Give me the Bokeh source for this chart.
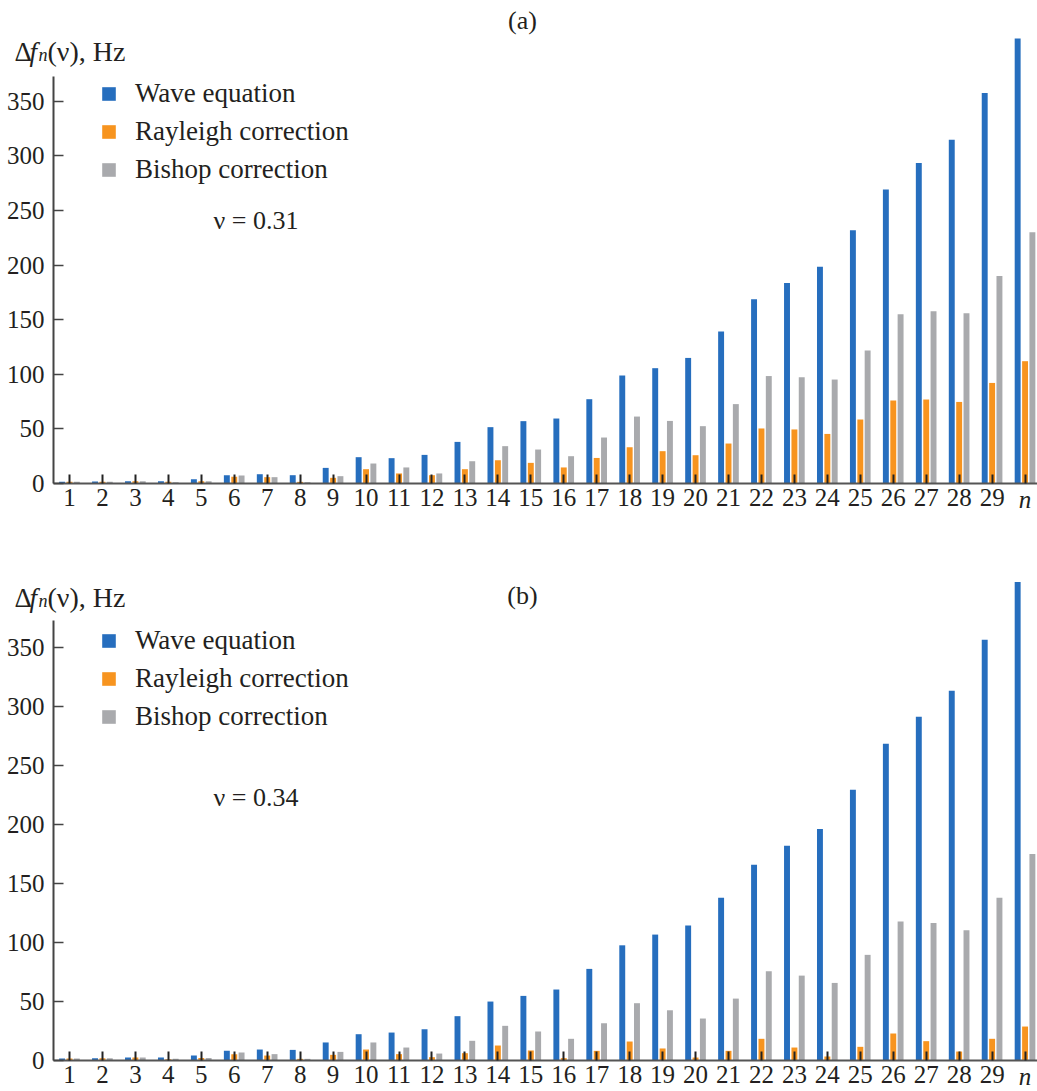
from bokeh.plotting import figure
from bokeh.models import (Label, Legend, LegendItem, FixedTicker, Range1d,
                          ColumnDataSource)
from bokeh.layouts import column
from bokeh.transform import dodge
from bokeh.embed import file_html
from bokeh.resources import INLINE

# ---------------- data ----------------
categories = [str(i) for i in range(1, 30)] + ["n"]
positions = list(range(1, 31))
y_ticks = [0, 50, 100, 150, 200, 250, 300, 350]
series_names = ["Wave equation", "Rayleigh correction", "Bishop correction"]

wave_a = [1.5, 1.8, 2.1, 2.1, 3.9, 7.6, 8.5, 7.6, 14.3, 24.1, 23.2, 26.2, 38.1, 51.6,
          57.1, 59.5, 77.2, 98.9, 105.6, 115.0, 139.2, 168.8, 183.7, 198.4, 232.0,
          269.2, 293.6, 314.7, 357.7, 407.5]
rayleigh_a = [1.5, 1.5, 2.1, 1.5, 2.1, 6.1, 5.8, 1.5, 5.2, 13.1, 9.2, 7.6, 13.1, 21.3,
              18.9, 14.7, 23.4, 33.2, 29.6, 25.9, 36.6, 50.4, 49.5, 45.4, 58.6,
              76.0, 76.9, 74.7, 92.1, 112.0]
bishop_a = [1.5, 1.5, 2.0, 1.2, 2.0, 7.3, 5.8, 1.2, 6.7, 18.3, 14.7, 9.2, 20.4, 34.2,
            31.1, 25.0, 42.1, 61.3, 57.3, 52.5, 72.7, 98.4, 97.3, 95.2, 121.8,
            155.0, 157.8, 155.9, 190.1, 230.1]

wave_b = [1.7, 1.9, 2.5, 2.5, 4.2, 8.2, 9.3, 9.0, 15.3, 22.3, 23.7, 26.5, 37.6, 50.0,
          54.8, 60.2, 77.7, 97.7, 106.8, 114.4, 138.1, 166.1, 182.2, 196.4, 229.7,
          268.6, 291.5, 313.6, 356.8, 405.9]
rayleigh_b = [1.7, 1.9, 2.5, 1.1, 2.2, 5.4, 4.2, 1.4, 4.8, 9.3, 5.4, 2.8, 6.2, 12.7,
              8.5, 2.0, 8.2, 16.1, 10.2, 2.5, 8.2, 18.4, 11.0, 3.4, 11.6,
              22.9, 16.4, 7.6, 18.4, 28.8]
bishop_b = [1.7, 1.9, 2.5, 1.4, 2.2, 6.8, 5.4, 1.4, 7.3, 15.3, 11.0, 5.9, 16.7, 29.4,
            24.6, 18.4, 31.6, 48.6, 42.6, 35.6, 52.5, 75.7, 72.0, 65.8, 89.6,
            117.8, 116.7, 110.4, 138.1, 175.2]

# ---------------- style ----------------
BLUE = "#266EBE"
ORANGE = "#F7941F"
GRAY = "#A9AAAD"
TXT = "#231f20"
FONT = "'Liberation Serif', 'Times New Roman', serif"

X_START = 0.5144     # left end of the category axis (data units)
X_END = 30.377
PX_PER_CAT = 32.95
LEFT_PX = 53
SHIFT = 10           # baseline correction for alphabetic labels


def add_text(p, x, y, text, size="26px", style="normal", align="left",
             baseline="alphabetic", x_units="screen"):
    p.add_layout(Label(x=x, y=y, x_units=x_units, y_units="screen", text=text,
                       text_font=FONT, text_font_size=size, text_font_style=style,
                       text_color=TXT, text_align=align, text_baseline=baseline))


def make_panel(wave, ray, bish, height, zero_px, px_per_unit, legend_y, n_y):
    src = ColumnDataSource(dict(x=positions, wave=wave, ray=ray, bish=bish))
    x0 = X_START - LEFT_PX / PX_PER_CAT
    ybot = -(height - zero_px) / px_per_unit
    ytop = zero_px / px_per_unit
    p = figure(width=1037, height=height, output_backend="svg",
               toolbar_location=None,
               x_range=Range1d(x0, X_END), y_range=Range1d(ybot, ytop),
               min_border_left=0, min_border_right=0, min_border_top=0,
               min_border_bottom=0)
    p.outline_line_color = None
    p.grid.visible = False
    p.background_fill_color = "white"

    w = 0.18
    r1 = p.vbar(x=dodge("x", -0.225, range=p.x_range), top="wave", width=w,
                source=src, fill_color=BLUE, line_color=None)
    r2 = p.vbar(x=dodge("x", 0.0, range=p.x_range), top="ray", width=w,
                source=src, fill_color=ORANGE, line_color=None)
    r3 = p.vbar(x=dodge("x", 0.222, range=p.x_range), top="bish", width=w,
                source=src, fill_color=GRAY, line_color=None)

    # axes (drawn at fixed locations inside the frame)
    xa = p.xaxis[0]
    xa.fixed_location = 0
    xa.bounds = (X_START, X_END)
    xa.ticker = FixedTicker(ticks=positions)
    overrides = {pos: cat for pos, cat in zip(positions, categories)}
    overrides[positions[-1]] = ""
    xa.major_label_overrides = overrides
    xa.major_tick_in = 9
    xa.major_tick_out = 0
    xa.major_tick_line_width = 2
    xa.major_tick_line_color = "#222222"
    xa.minor_tick_line_color = None
    xa.axis_line_color = "#555555"
    xa.axis_line_width = 2
    xa.major_label_text_font = FONT
    xa.major_label_text_font_size = "25px"
    xa.major_label_text_color = TXT
    xa.major_label_standoff = 5

    ya = p.yaxis[0]
    ya.fixed_location = X_START
    ya.ticker = FixedTicker(ticks=y_ticks)
    ya.bounds = (0, 373)
    ya.major_tick_in = 10
    ya.major_tick_out = 0
    ya.major_tick_line_width = 1.5
    ya.major_tick_line_color = "#444444"
    ya.minor_tick_line_color = None
    ya.axis_line_color = "#444444"
    ya.axis_line_width = 2
    ya.major_label_text_font = FONT
    ya.major_label_text_font_size = "25px"
    ya.major_label_text_color = TXT
    ya.major_label_standoff = 9

    # italic n tick label
    add_text(p, positions[-1], n_y, categories[-1], size="25px", style="italic",
             align="center", x_units="data")

    legend = Legend(items=[LegendItem(label=series_names[0], renderers=[r1]),
                           LegendItem(label=series_names[1], renderers=[r2]),
                           LegendItem(label=series_names[2], renderers=[r3])],
                    location=(100, legend_y), glyph_width=17, glyph_height=17,
                    label_standoff=18, spacing=7, padding=0, margin=0,
                    label_height=30, border_line_color=None,
                    background_fill_alpha=0,
                    label_text_font=FONT, label_text_font_size="27px",
                    label_text_color=TXT)
    p.add_layout(legend)
    return p


def ylabel(p, H, base):
    y = H - base + SHIFT
    add_text(p, 14, y, "Δ", size="27px")
    add_text(p, 29, y, "f", size="27px", style="italic")
    add_text(p, 38, y - 3, "n", size="18px", style="italic")
    add_text(p, 47, y, "(ν), Hz", size="28px")


# panel (a)
HA = 540
pa = make_panel(wave_a, rayleigh_a, bishop_a, HA, 483, 1.092, HA - 185,
                HA - 508 + SHIFT - 1)
add_text(pa, 522, HA - 20, "(a)", align="center", baseline="middle")
add_text(pa, 213, HA - 230 + SHIFT, "ν = 0.31")
ylabel(pa, HA, 61)

# panel (b)
HB = 551
pb = make_panel(wave_b, rayleigh_b, bishop_b, HB, 520, 1.179, HB - 192,
                HB - 545 + SHIFT - 1)
add_text(pb, 522, HB - 55, "(b)", align="center", baseline="middle")
add_text(pb, 213, HB - 267 + SHIFT, "ν = 0.34")
ylabel(pb, HB, 67)

layout = column(pa, pb, spacing=0)
open("out.html", "w").write(file_html(layout, INLINE))
